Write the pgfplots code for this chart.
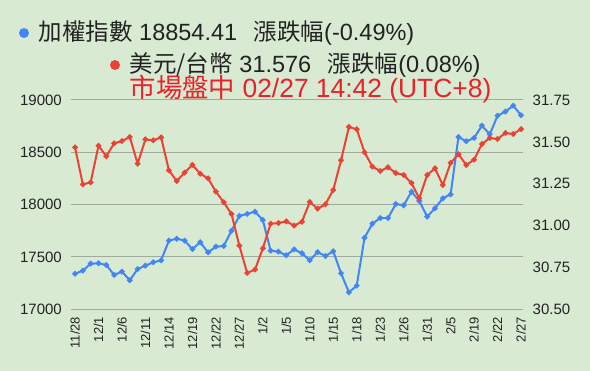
\documentclass[border=0pt]{standalone}
\usepackage{fontspec}
\setmainfont{Liberation Sans}
\newfontfamily\cjk{Noto Sans CJK TC}
\usepackage{pgfplots}
\pgfplotsset{compat=1.18}
\usepackage{pgfplotstable}
\definecolor{bg}{RGB}{217,234,211}
\definecolor{sblue}{RGB}{66,133,244}
\definecolor{sred}{RGB}{234,67,53}
\definecolor{tred}{RGB}{236,32,40}
\definecolor{gridc}{RGB}{160,170,158}
\definecolor{txt}{RGB}{34,34,34}
\pgfplotstableread{
i v
0 17340
1 17369
2 17436
3 17439
4 17423
5 17328
6 17360
7 17277
8 17385
9 17417
10 17449
11 17468
12 17656
13 17675
14 17656
15 17576
16 17640
17 17544
18 17598
19 17605
20 17751
21 17892
22 17911
23 17933
24 17853
25 17560
26 17551
27 17516
28 17573
29 17535
30 17468
31 17547
32 17509
33 17554
34 17344
35 17162
36 17226
37 17684
38 17818
39 17872
40 17872
41 18006
42 17993
43 18124
44 18035
45 17885
46 17965
47 18060
48 18099
49 18646
50 18605
51 18637
52 18755
53 18672
54 18850
55 18889
56 18946
57 18854
}\taiex
\pgfplotstableread{
i v
0 31.467
1 31.246
2 31.258
3 31.477
4 31.414
5 31.491
6 31.505
7 31.529
8 31.370
9 31.515
10 31.509
11 31.527
12 31.330
13 31.266
14 31.316
15 31.362
16 31.310
17 31.282
18 31.203
19 31.139
20 31.069
21 30.880
22 30.717
23 30.737
24 30.864
25 31.011
26 31.015
27 31.025
28 31.000
29 31.023
30 31.141
31 31.101
32 31.127
33 31.213
34 31.390
35 31.589
36 31.575
37 31.438
38 31.352
39 31.326
40 31.348
41 31.314
42 31.302
43 31.254
44 31.163
45 31.302
46 31.342
47 31.242
48 31.374
49 31.426
50 31.362
51 31.394
52 31.487
53 31.523
54 31.517
55 31.553
56 31.547
57 31.576
}\usdtwd
\begin{document}
\begin{tikzpicture}[x=1pt,y=1pt]
\fill[bg] (0,0) rectangle (590,371);
\begin{axis}[
  at={(71.5pt,61.7pt)}, anchor=south west,
  scale only axis, width=451.5pt, height=209.3pt,
  xmin=-0.45, xmax=57.25, ymin=17000, ymax=19000,
  scaled y ticks=false,
  ytick={17000,17500,18000,18500,19000},
  yticklabels={17000,17500,18000,18500,19000},
  xtick={0,3,...,57},
  xticklabels={11/28,12/1,12/6,12/11,12/14,12/19,12/22,12/27,1/2,1/5,1/10,1/15,1/18,1/23,1/26,1/31,2/5,2/19,2/22,2/27},
  axis line style={draw=none},
  major tick length=0pt,
  ymajorgrids,
  grid style={gridc, line width=1pt},
  yticklabel style={font=\fontsize{15}{18}\selectfont, text=txt, anchor=east, inner xsep=9.5pt, inner ysep=0pt},
  xticklabel style={font=\fontsize{13}{15}\selectfont, text=txt, rotate=90, anchor=east, inner xsep=7.4pt, inner ysep=0pt},
  clip=false,
]
\addplot[sblue, line width=2pt, mark=*, mark size=1.7pt] table[x=i,y=v] {\taiex};
\end{axis}
\begin{axis}[
  at={(71.5pt,61.7pt)}, anchor=south west,
  scale only axis, width=451.5pt, height=209.3pt,
  xmin=-0.45, xmax=57.25, ymin=30.5, ymax=31.75,
  scaled y ticks=false,
  axis y line*=right, axis x line=none,
  ytick={30.5,30.75,31,31.25,31.5,31.75},
  yticklabels={30.50,30.75,31.00,31.25,31.50,31.75},
  axis line style={draw=none},
  major tick length=0pt,
  yticklabel style={font=\fontsize{15}{18}\selectfont, text=txt, anchor=west, inner xsep=9.5pt, inner ysep=0pt},
  clip=false,
]
\addplot[sred, line width=2pt, mark=*, mark size=1.7pt] table[x=i,y=v] {\usdtwd};
\end{axis}
\fill[sblue] (24,338) circle (5);
\node[anchor=west, inner sep=0pt, text=txt, font=\fontsize{23.5}{27}\selectfont] at (38.5,338) {{\cjk 加權指數} 18854.41\hspace{0.7em}{\cjk 漲跌幅}(-0.49\%)};
\fill[sred] (115,306) circle (5);
\node[anchor=west, inner sep=0pt, text=txt, font=\fontsize{23.5}{27}\selectfont] at (129.5,306) {{\cjk 美元/台幣} 31.576\hspace{0.7em}{\cjk 漲跌幅}(0.08\%)};
\node[anchor=west, inner sep=0pt, text=tred, font=\fontsize{26.4}{30}\selectfont] at (129.5,281.5) {{\cjk 市場盤中} 02/27 14:42 (UTC+8)};
\end{tikzpicture}
\end{document}
